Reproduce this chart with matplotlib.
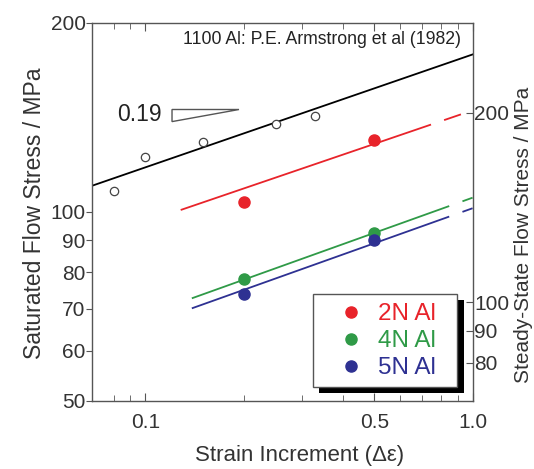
import matplotlib
matplotlib.use("Agg")
import matplotlib.pyplot as plt
from matplotlib.patches import Rectangle, Polygon
from matplotlib.lines import Line2D
import numpy as np

plt.rcParams['font.family'] = ['Liberation Sans', 'DejaVu Sans']

# ---- data ----
x_1100 = [0.08, 0.10, 0.15, 0.25, 0.33]
y_1100 = [108, 122, 129, 138, 142]

x_al = [0.2, 0.5]
y_2N = [103.6, 130]
y_4N = [78.0, 92.6]
y_5N = [73.8, 90.2]

# power-law fit lines: amplitude, exponent, solid range, dashed extension range
fit_1100 = dict(A=178, n=0.18, solid=(0.069, 1.0), ext=None)
fit_2N = dict(A=145, n=0.178, solid=(0.129, 0.74), ext=(0.821, 0.913))
fit_4N = dict(A=105.3, n=0.187, solid=(0.1395, 0.841), ext=(0.934, 0.991))
fit_5N = dict(A=101.3, n=0.186, solid=(0.1395, 0.841), ext=(0.934, 0.991))

labels = ['2N Al', '4N Al', '5N Al']
colors = ['#e8232a', '#2f9a47', '#2e3192']

xticks = [0.1, 0.5, 1.0]
xticklabels = ['0.1', '0.5', '1.0']
xminor = [0.08, 0.09, 0.2, 0.3, 0.4, 0.6, 0.7, 0.8, 0.9]
yticks = [50, 60, 70, 80, 90, 100, 200]
yticks_r = [80, 90, 100, 200]
right_factor = 1.393

fig = plt.figure(figsize=(5.34, 4.69), dpi=100)
ax = fig.add_axes([0.1732, 0.1456, 0.7126, 0.8064])
ax.set_xscale('log')
ax.set_yscale('log')
ax.set_xlim(0.069, 1.0)
ax.set_ylim(50, 200)

spine_c = '#555555'
text_c = '#333333'
for s in ax.spines.values():
    s.set_color(spine_c)
    s.set_linewidth(1.0)


def draw_fit(f, color):
    xs = np.geomspace(*f['solid'], 50)
    ax.plot(xs, f['A'] * xs ** f['n'], color=color, lw=1.3, zorder=2)
    if f['ext'] is not None:
        xe = np.geomspace(*f['ext'], 20)
        ax.plot(xe, f['A'] * xe ** f['n'], color=color, lw=1.3, zorder=2)


draw_fit(fit_1100, 'black')
draw_fit(fit_2N, colors[0])
draw_fit(fit_4N, colors[1])
draw_fit(fit_5N, colors[2])

ax.plot(x_1100, y_1100, 'o', mfc='white', mec='#444444', mew=0.9, ms=6, zorder=3)
for y, c in zip([y_2N, y_4N, y_5N], colors):
    ax.plot(x_al, y, 'o', color=c, ms=8, zorder=4)

# ticks
ax.set_xticks(xticks)
ax.set_xticklabels(xticklabels)
ax.set_xticks(xminor, minor=True)
ax.set_xticklabels([], minor=True)
ax.set_yticks(yticks)
ax.set_yticklabels([str(v) for v in yticks])
ax.set_yticks([], minor=True)
ax.tick_params(axis='x', which='both', direction='in', top=True, bottom=True,
               color=spine_c, labelsize=15, labelcolor=text_c, pad=9)
ax.tick_params(axis='x', which='major', length=6)
ax.tick_params(axis='x', which='minor', length=4)
ax.tick_params(axis='y', which='major', direction='out', length=4, color=spine_c,
               labelsize=15, labelcolor=text_c, pad=1, right=False)

ax2 = ax.twinx()
ax2.set_yscale('log')
ax2.set_ylim(50 * right_factor, 200 * right_factor)
ax2.set_yticks(yticks_r)
ax2.set_yticklabels([str(v) for v in yticks_r])
ax2.set_yticks([], minor=True)
ax2.tick_params(axis='y', direction='in', length=5, color=spine_c, labelsize=15,
                labelcolor=text_c, pad=1)
for s in ax2.spines.values():
    s.set_visible(False)

fig.text(300 / 534, 1 - 455 / 469, 'Strain Increment (\u0394\u03b5)', fontsize=16,
         color=text_c, ha='center', va='center')
fig.text(35 / 534, 1 - 213 / 469, 'Saturated Flow Stress / MPa', rotation=90,
         fontsize=16.5, color=text_c, ha='center', va='center')
fig.text(0.999, 0.5, 'Steady-State Flow Stress / MPa', rotation=90, fontsize=15,
         color=text_c, ha='right', va='center')

ax.text(0.968, 0.955, '1100 Al: P.E. Armstrong et al (1982)', transform=ax.transAxes,
        fontsize=12.7, color='#222222', ha='right', va='center')
ax.text(0.182, 0.758, '0.19', transform=ax.transAxes, fontsize=16.5, color='#222222',
        ha='right', va='center')
tri = Polygon([(0.209, 0.738), (0.209, 0.77), (0.385, 0.77)], closed=True,
              transform=ax.transAxes, fill=False, edgecolor='#555555', lw=1.0)
ax.add_patch(tri)

# legend: frame + drop shadow drawn as patches, entries via ax.legend
fx0, fx1, fy0, fy1 = 0.5795, 0.958, 0.0354, 0.2821
frame = Rectangle((fx0, fy0), fx1 - fx0, fy1 - fy0, transform=ax.transAxes,
                  facecolor='white', edgecolor='#555555', lw=1.0, zorder=9)
shadow = Rectangle((fx0 + 0.017, fy0 - 0.016), fx1 - fx0, fy1 - fy0,
                   transform=ax.transAxes, facecolor='black', edgecolor='none',
                   zorder=8)
ax.add_patch(shadow)
ax.add_patch(frame)

handles = [Line2D([], [], marker='o', ls='none', color=c, ms=8) for c in colors]
leg = ax.legend(handles, labels, loc='center', bbox_to_anchor=(0.7753, 0.157),
                fontsize=17.5, frameon=False, handletextpad=0.62,
                labelspacing=0.2, borderpad=0, handlelength=1.0,
                borderaxespad=0)
for t, c in zip(leg.get_texts(), colors):
    t.set_color(c)
leg.set_zorder(10)

fig.savefig('out.png', dpi=100, facecolor='white')
